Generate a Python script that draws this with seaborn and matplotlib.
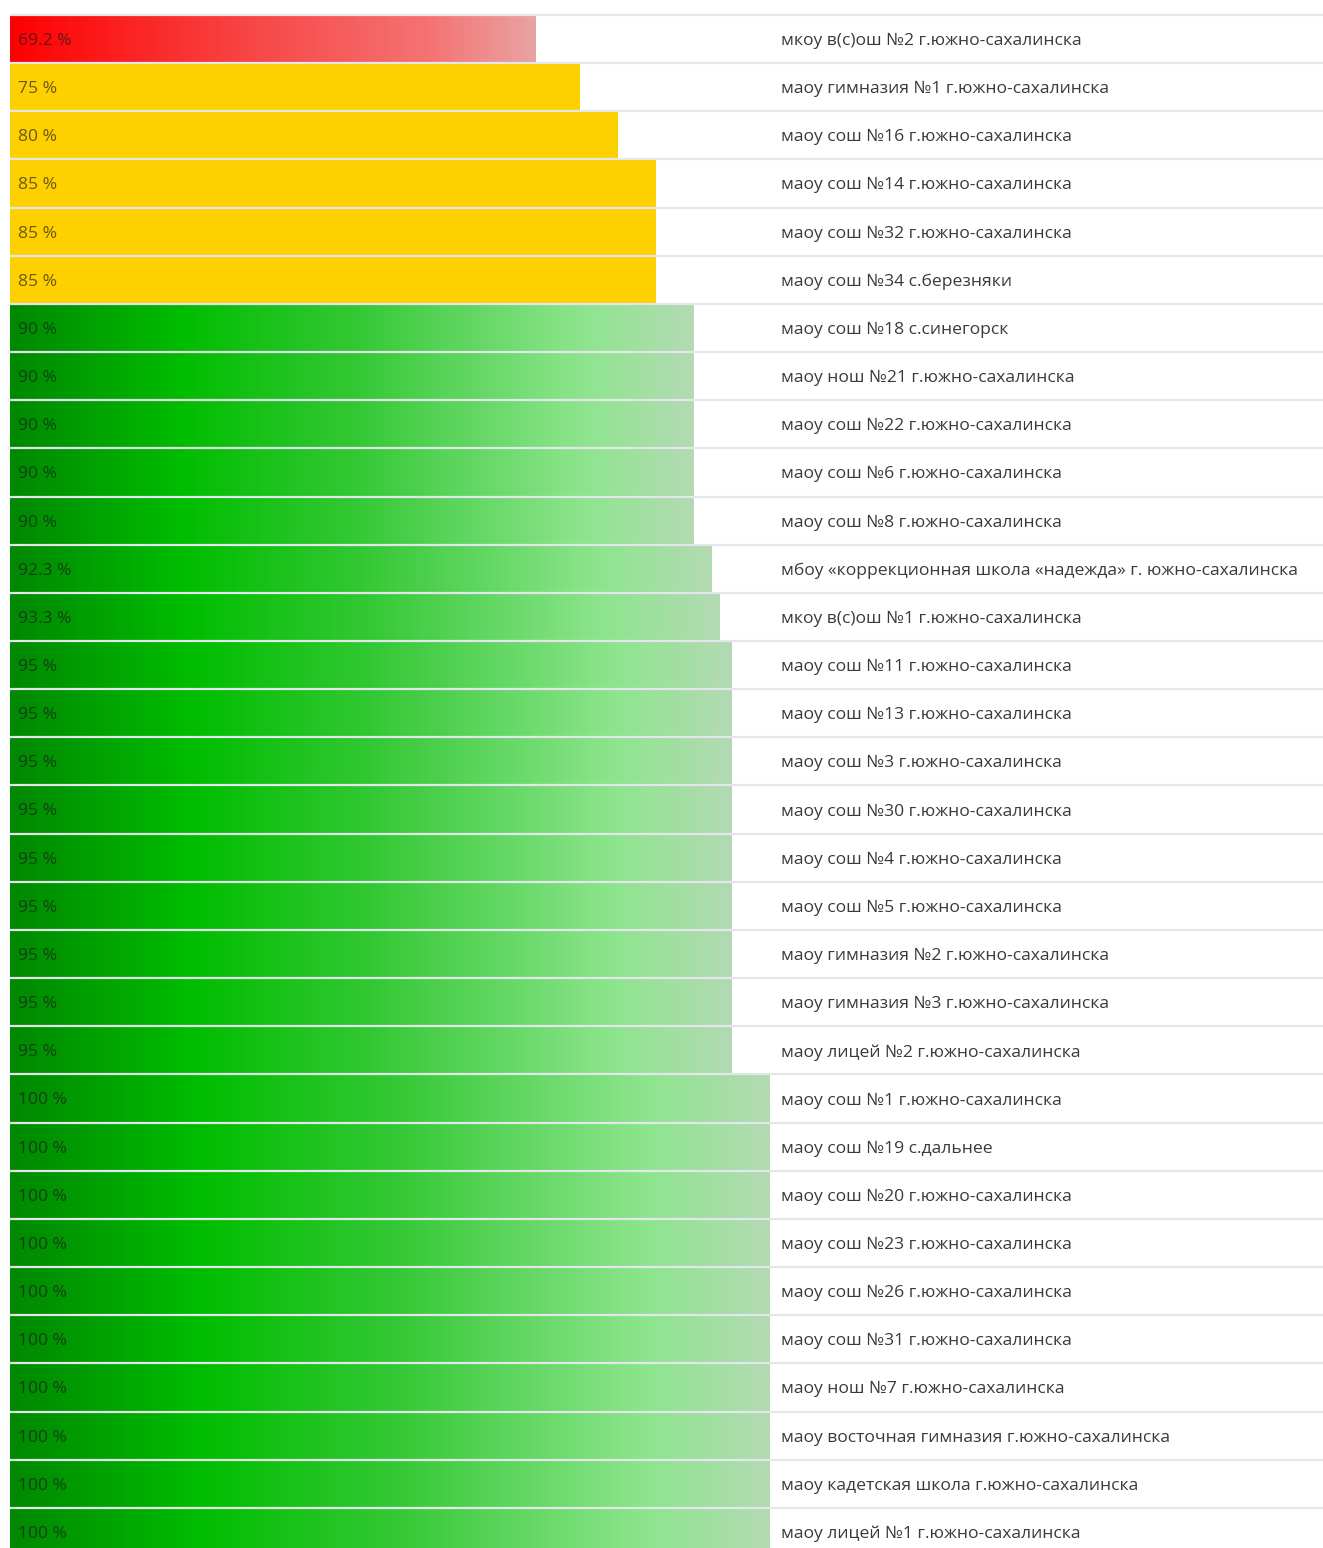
import numpy as np
import pandas as pd
import matplotlib
matplotlib.use('Agg')
import matplotlib.pyplot as plt
import seaborn as sns
from matplotlib.colors import LinearSegmentedColormap

# ── Data ───────────────────────────────────────────────────────────────────
schools = [
    'мкоу в(с)ош №2 г.южно-сахалинска',
    'маоу гимназия №1 г.южно-сахалинска',
    'маоу сош №16 г.южно-сахалинска',
    'маоу сош №14 г.южно-сахалинска',
    'маоу сош №32 г.южно-сахалинска',
    'маоу сош №34 с.березняки',
    'маоу сош №18 с.синегорск',
    'маоу нош №21 г.южно-сахалинска',
    'маоу сош №22 г.южно-сахалинска',
    'маоу сош №6 г.южно-сахалинска',
    'маоу сош №8 г.южно-сахалинска',
    'мбоу «коррекционная школа «надежда» г. южно-сахалинска',
    'мкоу в(с)ош №1 г.южно-сахалинска',
    'маоу сош №11 г.южно-сахалинска',
    'маоу сош №13 г.южно-сахалинска',
    'маоу сош №3 г.южно-сахалинска',
    'маоу сош №30 г.южно-сахалинска',
    'маоу сош №4 г.южно-сахалинска',
    'маоу сош №5 г.южно-сахалинска',
    'маоу гимназия №2 г.южно-сахалинска',
    'маоу гимназия №3 г.южно-сахалинска',
    'маоу лицей №2 г.южно-сахалинска',
    'маоу сош №1 г.южно-сахалинска',
    'маоу сош №19 с.дальнее',
    'маоу сош №20 г.южно-сахалинска',
    'маоу сош №23 г.южно-сахалинска',
    'маоу сош №26 г.южно-сахалинска',
    'маоу сош №31 г.южно-сахалинска',
    'маоу нош №7 г.южно-сахалинска',
    'маоу восточная гимназия г.южно-сахалинска',
    'маоу кадетская школа г.южно-сахалинска',
    'маоу лицей №1 г.южно-сахалинска',
]
percent = [69.2, 75, 80, 85, 85, 85, 90, 90, 90, 90, 90, 92.3, 93.3,
           95, 95, 95, 95, 95, 95, 95, 95, 95,
           100, 100, 100, 100, 100, 100, 100, 100, 100, 100]
value_labels = ['69.2 %', '75 %', '80 %', '85 %', '85 %', '85 %',
                '90 %', '90 %', '90 %', '90 %', '90 %', '92.3 %', '93.3 %',
                '95 %', '95 %', '95 %', '95 %', '95 %', '95 %', '95 %', '95 %', '95 %',
                '100 %', '100 %', '100 %', '100 %', '100 %', '100 %', '100 %',
                '100 %', '100 %', '100 %']

df = pd.DataFrame({'school': schools, 'percent': percent})

# ── Style ──────────────────────────────────────────────────────────────────
sns.set_theme(style='white')
plt.rcParams['font.family'] = ['Open Sans', 'DejaVu Sans']

red_cmap = LinearSegmentedColormap.from_list(
    'red', [(0.0, '#ff0000'), (0.45, '#f84545'), (0.8, '#f57373'), (1.0, '#e9a3a3')])
green_cmap = LinearSegmentedColormap.from_list(
    'green', [(0.0, '#008800'), (0.25, '#00bd00'), (0.5, '#33c833'),
              (0.84, '#8ee58e'), (1.0, '#b3dab3')])
YELLOW = '#ffd000'

# ── Plot ───────────────────────────────────────────────────────────────────
fig = plt.figure(figsize=(13.23, 15.48), dpi=100)
ax = fig.add_axes([0, 0, 1, 1])

sns.barplot(data=df, x='percent', y='school', orient='h', width=1.0,
            color=YELLOW, saturation=1, edgecolor='none', linewidth=0, ax=ax)

px = 7.6  # pixels per percent
x_left = -10 / px
x_right = (1323 - 10) / px
row = 48.16
y_top = -39 / row
y_bot = (1548 - 39) / row

grad = np.linspace(0, 1, 256).reshape(1, -1)
for patch, val in zip(ax.patches, df['percent']):
    x0, y0 = patch.get_x(), patch.get_y()
    w, h = patch.get_width(), patch.get_height()
    if val < 70:
        cmap = red_cmap
    elif val < 90:
        continue
    else:
        cmap = green_cmap
    im = ax.imshow(grad, cmap=cmap, aspect='auto',
                   extent=(x0, x0 + w, y0 + h, y0), zorder=patch.get_zorder() + 0.1)
    im.set_clip_path(patch)

# row separators
bounds = np.arange(len(schools) + 1) - 0.5
ax.hlines(bounds, 0, x_right, colors='#e3e7eb', linewidth=1.6, zorder=5)

for i, (lab, name) in enumerate(zip(value_labels, schools)):
    ax.text(1.05, i + 0.04, lab, va='center', ha='left', fontsize=12.6,
            color='#1a1a1a', alpha=0.65, zorder=6)
    ax.text(101.45, i + 0.04, name, va='center', ha='left', fontsize=12.6,
            color='#3a3a3a', zorder=6)

ax.set_xlim(x_left, x_right)
ax.set_ylim(y_bot, y_top)
ax.set_axis_off()

plt.savefig('out.png', dpi=100)
plt.close()
